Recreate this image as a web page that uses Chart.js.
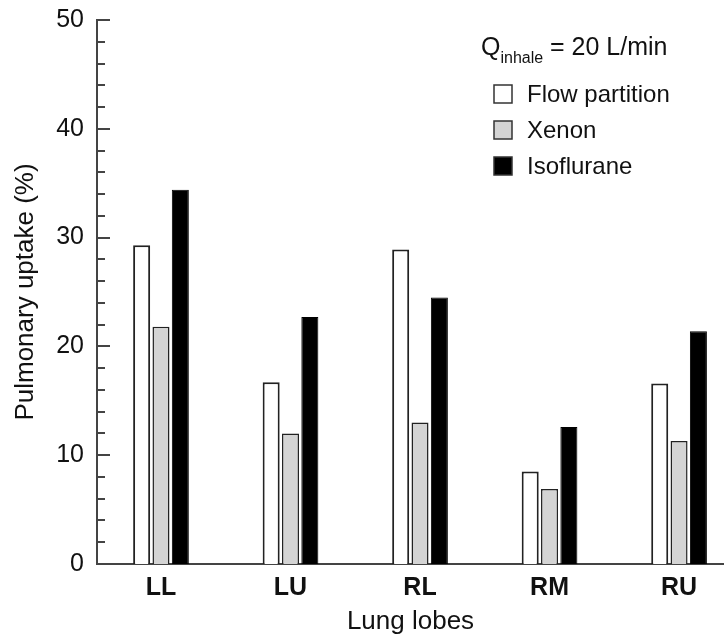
<!DOCTYPE html>
<html>
<head>
<meta charset="utf-8">
<script src="https://cdn.jsdelivr.net/npm/chart.js@4.4.1/dist/chart.umd.min.js"></script>
<style>
  html, body { margin: 0; padding: 0; background: #fff; }
  #wrap { width: 724px; height: 637px; position: relative; }
</style>
</head>
<body>
<div id="wrap"><canvas id="uptakeChart"></canvas></div>
<script>
// datos
const lobes = ['LL', 'LU', 'RL', 'RM', 'RU'];
const flowPartition = [29.3, 16.7, 28.9, 8.5, 16.6];
const xenon = [21.8, 12.0, 13.0, 6.9, 11.3];
const isoflurane = [34.4, 22.7, 24.5, 12.6, 21.4];
const yTicks = [0, 10, 20, 30, 40, 50];

const FONT = '"Liberation Sans", Arial, sans-serif';
const AXIS = '#444';

function points(values) {
    return values.map((v, i) => ({ x: i, y: v }));
}

// ticks hacia dentro (mayores cada 10, menores cada 2)
const innerTicks = {
    id: 'innerTicks',
    afterDraw(chart) {
        const ctx = chart.ctx;
        const y = chart.scales.y;
        const left = chart.chartArea.left;
        ctx.save();
        ctx.strokeStyle = AXIS;
        ctx.lineWidth = 2;
        for (let v = 0; v <= 50; v += 2) {
            const py = Math.round(y.getPixelForValue(v));
            const len = v % 10 === 0 ? 13 : 8;
            ctx.beginPath();
            ctx.moveTo(left, py);
            ctx.lineTo(left + len, py);
            ctx.stroke();
        }
        ctx.restore();
    }
};

// leyenda con el titulo Q_inhale
const customLegend = {
    id: 'customLegend',
    afterDraw(chart) {
        const ctx = chart.ctx;
        ctx.save();
        ctx.fillStyle = '#111';
        ctx.textBaseline = 'alphabetic';
        ctx.font = '25px ' + FONT;
        ctx.fillText('Q', 481, 55);
        const qw = ctx.measureText('Q').width;
        ctx.font = '16px ' + FONT;
        ctx.fillText('inhale', 481 + qw, 63);
        ctx.font = '25px ' + FONT;
        ctx.fillText('= 20 L/min', 550, 55);

        ctx.font = '24px ' + FONT;
        ctx.textBaseline = 'middle';
        chart.data.datasets.forEach((ds, i) => {
            const cy = 94 + i * 36;
            ctx.fillStyle = ds.backgroundColor;
            ctx.fillRect(494, cy - 9, 18, 18);
            ctx.strokeStyle = '#333';
            ctx.lineWidth = 1.5;
            ctx.strokeRect(494, cy - 9, 18, 18);
            ctx.fillStyle = '#111';
            ctx.fillText(ds.label, 527, cy + 1);
        });
        ctx.restore();
    }
};

const ctx = document.getElementById('uptakeChart').getContext('2d');
new Chart(ctx, {
    type: 'bar',
    data: {
        datasets: [{
            label: 'Flow partition',
            data: points(flowPartition),
            backgroundColor: '#ffffff',
            borderColor: '#222',
            borderWidth: 2
        }, {
            label: 'Xenon',
            data: points(xenon),
            backgroundColor: '#d4d4d4',
            borderColor: '#222',
            borderWidth: 1.5
        }, {
            label: 'Isoflurane',
            data: points(isoflurane),
            backgroundColor: '#000000',
            borderColor: '#000000',
            borderWidth: 1
        }]
    },
    options: {
        responsive: true,
        maintainAspectRatio: false,
        animation: false,
        categoryPercentage: 0.448,
        barPercentage: 0.88,
        layout: { padding: { top: 20, right: 0, left: 0, bottom: 0 } },
        plugins: {
            legend: { display: false },
            tooltip: { enabled: false }
        },
        scales: {
            x: {
                type: 'linear',
                offset: false,
                min: -0.494,
                max: 4.347,
                afterBuildTicks: scale => {
                    scale.ticks = lobes.map((_, i) => ({ value: i }));
                },
                afterFit: scale => {
                    scale.height = 73;
                    scale.paddingLeft = 0;
                    scale.paddingRight = 0;
                },
                grid: { display: false, drawTicks: false, offset: false },
                border: { display: true, color: AXIS, width: 2 },
                ticks: {
                    callback: v => lobes[v],
                    color: '#111',
                    padding: 9,
                    maxRotation: 0,
                    font: { family: FONT, size: 25, weight: 'bold' }
                },
                title: {
                    display: true,
                    text: 'Lung lobes',
                    color: '#111',
                    padding: { top: 0, bottom: 0 },
                    font: { family: FONT, size: 26 }
                }
            },
            y: {
                min: 0,
                max: 50,
                afterBuildTicks: scale => {
                    scale.ticks = yTicks.map(v => ({ value: v }));
                },
                afterFit: scale => {
                    scale.width = 97;
                    scale.paddingTop = 0;
                    scale.paddingBottom = 0;
                },
                grid: { display: false, drawTicks: false },
                border: { display: true, color: AXIS, width: 2 },
                ticks: {
                    color: '#111',
                    padding: 13,
                    font: { family: FONT, size: 25 }
                },
                title: {
                    display: true,
                    text: 'Pulmonary uptake (%)',
                    color: '#111',
                    padding: { top: 10, bottom: 0 },
                    font: { family: FONT, size: 26 }
                }
            }
        }
    },
    plugins: [innerTicks, customLegend]
});
</script>
</body>
</html>
